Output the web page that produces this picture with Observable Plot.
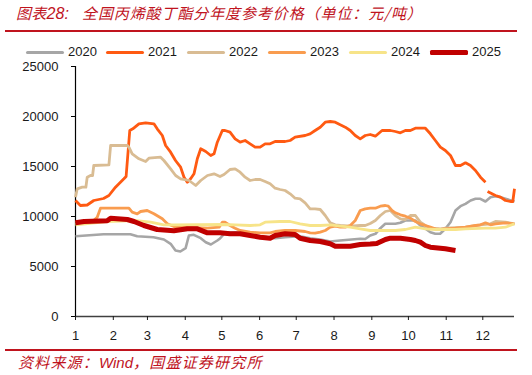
<!DOCTYPE html>
<html>
<head>
<meta charset="utf-8">
<script src="https://cdn.jsdelivr.net/npm/d3@7"></script>
<script src="https://cdn.jsdelivr.net/npm/@observablehq/plot@0.6"></script>
<style>
  html, body { margin: 0; padding: 0; background: #fff; }
  #wrap { position: relative; width: 532px; height: 375px; overflow: hidden; font-family: "Liberation Sans", Arial, sans-serif; }
  .ttl { position: absolute; top: 3px; font-family: "Noto Sans CJK SC", sans-serif; font-style: italic; font-size: 15px; line-height: 20px; color: #C0141E; white-space: nowrap; }
  #title1 { left: 16px; letter-spacing: 0.3px; }
  #title2 { left: 82px; letter-spacing: 0.9px; }
  .lat { font-family: "Liberation Sans", Arial, sans-serif; letter-spacing: 0; }
  #title1 .lat { font-size: 16px; }
  #rule1 { position: absolute; left: 5px; top: 30px; width: 512px; height: 2px; background: #C0141E; }
  #legend { position: absolute; left: 0; top: 43px; height: 18px; width: 532px; font-size: 13px; color: #1a1a1a; }
  .item { position: absolute; top: 0; height: 18px; line-height: 18px; white-space: nowrap; }
  .sw { position: absolute; top: 9px; width: 38px; }
  .lab { position: absolute; left: 42px; top: 0; }
  #chart { position: absolute; left: 0; top: 60px; }
  #rule2 { position: absolute; left: 5px; top: 349px; width: 512px; height: 1.5px; background: #C0141E; }
  #source { position: absolute; left: 18px; top: 352px; font-family: "Noto Sans CJK SC", sans-serif; font-style: italic; font-size: 15px; line-height: 20px; letter-spacing: 1.2px; color: #C0141E; white-space: nowrap; }
</style>
</head>
<body>
<div id="wrap">
  <div id="title1" class="ttl">图表<span class="lat">28:</span></div>
  <div id="title2" class="ttl">全国丙烯酸丁酯分年度参考价格（单位：元/吨）</div>
  <div id="rule1"></div>
  <div id="legend"></div>
  <div id="chart"></div>
  <div id="rule2"></div>
  <div id="source">资料来源：<span class="lat">Wind</span>，国盛证券研究所</div>
</div>
<script>
// ---- data (day of year, price in 元/吨) ----
const seriesNames = ["2020", "2021", "2022", "2023", "2024", "2025"];
const seriesColors = ["#A6A6A6", "#FF5A12", "#D9BC93", "#F99C4F", "#F7E489", "#C00000"];
const seriesWidths = [2.6, 2.8, 2.8, 2.8, 2.8, 5];

const monthStartDays = [0, 31, 59, 90, 120, 151, 181, 212, 243, 273, 304, 334];
const monthLabels = ["1","2","3","4","5","6","7","8","9","10","11","12"];
const yTicks = [0, 5000, 10000, 15000, 20000, 25000];

const days2020 = [0, 23, 45, 50.6, 64, 72.5, 78, 82, 86, 90.3, 93, 97, 102.7, 106.8, 111, 116.3, 118.5, 122.6, 131, 143, 151.4, 163.7, 172, 184, 192.4, 200.7, 209, 217, 233.5, 237.6, 241.7, 246, 250, 254, 262.3, 266.4, 270.5, 278.7, 282.8, 287, 291, 295, 299, 303.3, 307.5, 311.6, 315.7, 319.8, 324, 328, 332, 336.2, 340.3, 344.4, 348.5, 352.6, 360];
const vals2020 = [8030, 8230, 8230, 8030, 7930, 7700, 7270, 6600, 6500, 6830, 8100, 8170, 7830, 7430, 7200, 7600, 7800, 8370, 8430, 8170, 8030, 7830, 7930, 8030, 7830, 7700, 7500, 7600, 7770, 7750, 8100, 8270, 8830, 9270, 9270, 9370, 9600, 9600, 9100, 8770, 8430, 8270, 8270, 8770, 9430, 10600, 11030, 11270, 11600, 11770, 11770, 11500, 11930, 12030, 11930, 11770, 11500];

const days2021 = [0, 4, 9.6, 15, 23, 27.4, 32.8, 39.7, 41.5, 44.5, 47, 52, 57.5, 64.3, 67, 71.2, 73.9, 78, 82, 86.2, 89, 91.7, 94.4, 97.2, 99.9, 102.7, 106.8, 110.9, 113.6, 116.3, 120.4, 122.6, 126.7, 130.9, 135, 139.1, 143.2, 147.3, 151.4, 155.5, 159.6, 163.7, 171.9, 176, 180.1, 188.3, 192.4, 196.5, 200.7, 204.8, 208.9, 213, 217.1, 221.2, 225.3, 229.4, 233.5, 237.6, 241.7, 245.9, 251.4, 258.2, 262.3, 266.4, 270.5, 274.6, 278.7, 286.9, 291, 295.1, 299.2, 303.3, 307.5, 311.6, 315.7, 319.8, 323.9, 328, 332.1, 336.2, 337, 337.9, 344.4, 348.5, 352.6, 356.7, 358.6, 360];
const vals2021 = [11600, 11100, 11150, 11600, 11800, 12100, 12930, 13770, 14000, 18600, 18770, 19270, 19370, 19270, 18770, 18100, 17100, 16430, 15600, 14930, 13930, 13430, 13770, 14270, 15770, 16770, 16500, 16100, 16270, 17430, 18600, 18600, 18430, 17770, 17430, 17600, 17270, 16930, 16930, 17270, 17270, 17500, 17500, 17600, 17930, 18100, 18270, 18600, 18930, 19430, 19500, 19430, 19170, 18930, 18600, 18100, 17770, 18100, 18200, 18030, 18600, 18600, 18500, 18370, 18600, 18600, 18830, 18830, 18270, 17600, 16930, 16600, 16100, 15100, 15100, 15370, 15100, 14600, 13930, 13430, null, 12500, 12100, 11930, 11600, 11500, 11500, 12770];

const days2022 = [0, 1.4, 5.5, 8.5, 9.6, 12.3, 14, 15, 27.4, 28.8, 42.5, 43.8, 46.5, 52, 57.5, 60.2, 69.8, 72.5, 78, 82.1, 86.2, 93.1, 98.6, 102.7, 108.2, 113.6, 118.5, 121.8, 126.7, 130.9, 135, 139.1, 143.2, 147.3, 151.4, 155.5, 159.6, 163.7, 167.8, 171.9, 176, 180.1, 184.2, 188.3, 192.4, 196.5, 200.7, 204.8, 208.9, 213, 217.1, 225.3, 233.5, 237.6, 241.7, 245.9, 250, 254.1, 258.2, 262.3, 266.4, 270.5, 274.6, 278.7, 282.8, 286.9, 291, 299.2, 303.3, 319.8, 332.1, 340.3, 344.4, 352.6, 360];
const vals2022 = [11930, 12770, 12930, 12930, 13930, 14100, 14100, 15100, 15170, 17100, 17100, 16930, 16270, 15770, 15500, 15830, 15930, 15600, 14770, 14100, 13770, 13600, 13100, 13600, 14100, 14270, 14000, 14200, 14700, 14770, 14430, 13930, 13600, 13700, 13700, 13500, 13270, 12830, 12700, 12600, 12270, 11830, 11770, 11370, 10770, 10770, 10700, 10100, 9370, 9170, 9100, 9030, 9100, 9100, 9300, 9600, 10100, 10500, 10600, 10100, 9770, 9700, 10100, 10100, 9430, 9100, 8830, 8770, 8830, 8930, 9170, 9270, 9500, 9430, 9270];

const days2023 = [0, 14, 17.8, 20.5, 43.8, 46.5, 50.6, 53.4, 58.8, 64.3, 71.2, 75.3, 80.7, 94.4, 108.2, 117.8, 120.4, 122.6, 126.7, 130.9, 135, 143.2, 151.4, 159.6, 163.7, 171.9, 180.1, 188.3, 192.4, 196.5, 200.7, 204.8, 208.9, 213, 217.1, 221.2, 225.3, 229.4, 233.5, 237.6, 241.7, 245.9, 250, 254.1, 256.5, 259.5, 262.3, 266.4, 270.5, 274.6, 278.7, 282.8, 286.9, 291, 295.1, 299.2, 303.3, 311.6, 319.8, 328, 332.1, 336.2, 340.3, 344.4, 352.6, 360];
const vals2023 = [9400, 9500, 9930, 10830, 10830, 10430, 10270, 10500, 10600, 10270, 9770, 9270, 9000, 8900, 8830, 8930, 9430, 9430, 9100, 8830, 8600, 8430, 8370, 8370, 8500, 8600, 8600, 8500, 8370, 8330, 8430, 8600, 8930, 9030, 8930, 8930, 9100, 9600, 10600, 10770, 10830, 10830, 11030, 11100, 11030, 10600, 10370, 10170, 10030, 9830, 9500, 9270, 9100, 8930, 8770, 8700, 8770, 8830, 8930, 9100, 9170, 9370, 9170, 9270, 9370, 9270];

const days2024 = [0, 26, 47.9, 61.6, 72.5, 80.7, 121.8, 130.9, 143.2, 151.4, 155.5, 167.8, 176, 184.2, 192.4, 200.7, 208.9, 217.1, 225.3, 233.5, 241.7, 250, 262.3, 270.5, 278.7, 286.9, 295.1, 311.6, 319.8, 336.2, 344.4, 352.6, 360];
const vals2024 = [9170, 9500, 9600, 9430, 9170, 9170, 9200, 9170, 9100, 9170, 9430, 9500, 9500, 9270, 9100, 9100, 9170, 9030, 8930, 8770, 8600, 8600, 8600, 8700, 8930, 8770, 8700, 8700, 8770, 8830, 8830, 8930, 9270];

const days2025 = [0, 7, 26, 28.8, 42.5, 48, 56.1, 67, 80.7, 91.7, 99.9, 108.2, 118.5, 126.7, 135, 143.2, 151.4, 159.6, 163.7, 171.9, 180.1, 184.2, 192.4, 200.7, 208.9, 213, 225.3, 233.5, 241.7, 247, 254.1, 258.2, 266.4, 274.6, 278.7, 282.8, 286.9, 291, 299.2, 303.3, 311.6];
const vals2025 = [9370, 9500, 9570, 9830, 9700, 9500, 9100, 8700, 8570, 8770, 8770, 8370, 8370, 8270, 8270, 8100, 7930, 7830, 8100, 8270, 8200, 7830, 7600, 7500, 7270, 7030, 7030, 7200, 7250, 7300, 7700, 7830, 7830, 7700, 7600, 7430, 7100, 6930, 6830, 6770, 6600];

const allDays = [days2020, days2021, days2022, days2023, days2024, days2025];
const allVals = [vals2020, vals2021, vals2022, vals2023, vals2024, vals2025];

// ---- build rows ----
const series = seriesNames.map((name, i) => ({
  name,
  color: seriesColors[i],
  width: seriesWidths[i],
  rows: allDays[i].map((d, j) => ({day: d, value: allVals[i][j]}))
}));

// ---- legend ----
const legendX = [26, 106, 187, 268, 349, 430];
const legend = document.getElementById("legend");
series.forEach((s, i) => {
  const it = document.createElement("div");
  it.className = "item";
  it.style.left = legendX[i] + "px";
  const sw = document.createElement("div");
  sw.className = "sw";
  sw.style.background = s.color;
  sw.style.height = (s.width >= 4 ? 5 : 3) + "px";
  sw.style.marginTop = (s.width >= 4 ? -2.5 : -1.5) + "px";
  sw.style.borderRadius = "1.5px";
  const lab = document.createElement("div");
  lab.className = "lab";
  lab.textContent = s.name;
  it.appendChild(sw);
  it.appendChild(lab);
  legend.appendChild(it);
});

// ---- chart ----
const marks = [
  Plot.ruleY([0], {stroke: "#404040", strokeWidth: 1.3}),
  Plot.ruleX([0], {stroke: "#000", strokeWidth: 1.2}),
  Plot.axisY({ticks: yTicks, tickSize: 4, tickPadding: 13, tickFormat: d => String(d), fontSize: 13, stroke: "#000"}),
  Plot.axisX({ticks: monthStartDays, tickSize: 4, tickPadding: 10, tickFormat: d => monthLabels[monthStartDays.indexOf(d)], fontSize: 13})
];
series.forEach(s => {
  marks.push(Plot.line(s.rows, {x: "day", y: "value", stroke: s.color, strokeWidth: s.width, strokeLinejoin: "round", strokeLinecap: "butt"}));
});

const chart = Plot.plot({
  width: 532,
  height: 286,
  marginLeft: 75,
  marginRight: 18,
  marginTop: 6,
  marginBottom: 30,
  style: {fontFamily: "'Liberation Sans', Arial, sans-serif", color: "#1a1a1a", background: "transparent"},
  x: {domain: [0, 360], label: null},
  y: {domain: [0, 25000], label: null},
  marks
});
document.getElementById("chart").appendChild(chart);
</script>
</body>
</html>
